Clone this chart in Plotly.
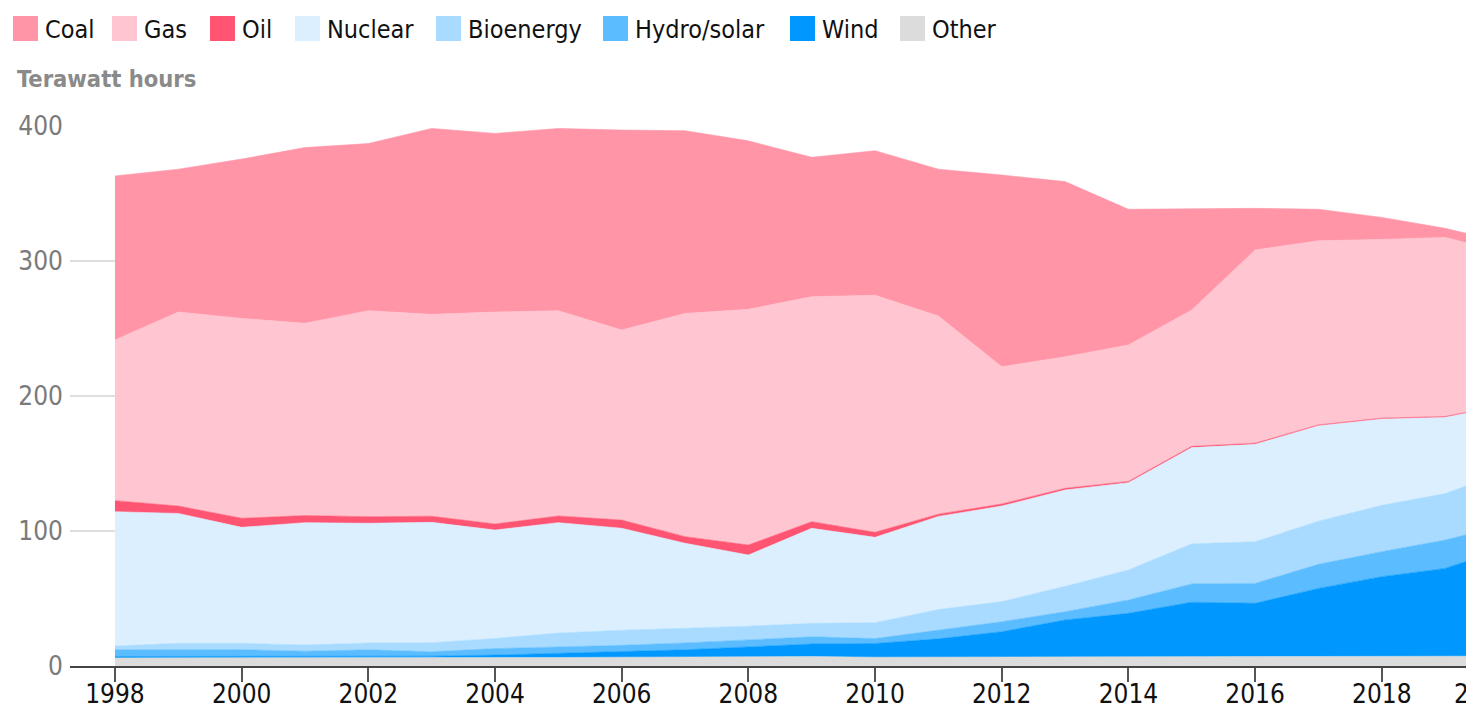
import plotly.graph_objects as go

years = list(range(1998, 2021))

other = [6.0, 6.0, 6.0, 5.8, 5.9, 6.0, 6.2, 6.3, 6.5, 6.7, 6.9, 7.0, 6.5, 6.6, 6.7, 6.8, 6.9, 7.1, 7.5, 7.5, 7.6, 7.5, 7.3]
wind = [1.0, 1.0, 1.0, 1.0, 1.3, 1.3, 1.9, 2.9, 4.2, 5.3, 7.1, 9.3, 10.2, 13.5, 18.7, 27.3, 32.1, 40.2, 38.9, 50.0, 58.6, 64.8, 80.7]
hydro_solar = [5.0, 5.3, 5.1, 4.1, 4.8, 3.2, 4.8, 4.9, 4.6, 5.1, 5.2, 5.3, 3.6, 6.6, 7.4, 6.1, 9.9, 13.5, 14.8, 17.8, 18.5, 21.0, 17.0]
bioenergy = [2.8, 4.5, 4.7, 4.7, 5.0, 6.8, 7.5, 10.3, 11.2, 10.9, 10.3, 10.0, 11.8, 15.1, 14.9, 18.8, 22.2, 29.7, 30.8, 32.0, 34.3, 34.4, 40.0]
nuclear = [99.5, 96.2, 85.9, 90.6, 88.7, 89.1, 80.3, 81.8, 75.5, 62.9, 52.7, 70.4, 63.2, 69.0, 70.8, 71.4, 64.7, 71.3, 72.2, 70.7, 64.0, 56.6, 48.5]
oil = [8.2, 5.5, 6.7, 5.2, 4.9, 4.5, 4.5, 4.9, 6.1, 4.9, 7.4, 4.9, 3.7, 1.7, 1.5, 1.2, 0.9, 0.9, 0.8, 0.6, 0.6, 0.5, 0.5]
gas = [119.0, 143.7, 148.1, 142.4, 152.6, 149.6, 157.0, 152.1, 140.8, 165.4, 174.6, 166.7, 175.6, 146.8, 101.7, 97.4, 101.1, 101.0, 143.1, 136.4, 132.4, 132.7, 111.5]
coal = [121.5, 105.8, 118.0, 130.2, 123.8, 137.7, 132.3, 135.0, 148.1, 135.3, 124.8, 103.2, 107.1, 108.7, 142.0, 129.8, 100.5, 75.1, 30.9, 23.3, 16.3, 6.7, 7.5]

# stacking order bottom -> top
series_names = ["Other", "Wind", "Hydro/solar", "Bioenergy", "Nuclear", "Oil", "Gas", "Coal"]
series_values = [other, wind, hydro_solar, bioenergy, nuclear, oil, gas, coal]
series_colors = ["#dcdcdc", "#0098ff", "#5bbcff", "#a8dbff", "#dbefff", "#ff5472", "#ffc5d0", "#ff95a7"]

# legend order (top -> bottom of stack)
legend_names = ["Coal", "Gas", "Oil", "Nuclear", "Bioenergy", "Hydro/solar", "Wind", "Other"]

x_ticks = list(range(1998, 2019, 2))
y_ticks = [0, 100, 200, 300, 400]
y_label = "Terawatt hours"
last_label = "2020"

FONT = "DejaVu Sans Condensed, DejaVu Sans, sans-serif"

W, H = 1466, 711
ML, MR, MT, MB = 70, 0, 126, 45
PW = W - ML - MR
PH = H - MT - MB


def px_x(p):
    return (p - ML) / PW


def px_y(p):
    return (H - MB - p) / PH


fig = go.Figure()
for name, vals, col in zip(series_names, series_values, series_colors):
    fig.add_trace(go.Scatter(
        x=years, y=vals, name=name, stackgroup="one", mode="lines",
        line=dict(width=0.6, color=col), fillcolor=col, showlegend=False,
        hoverinfo="x+y+name",
    ))

# custom legend (square swatches + text)
legend_left_px = [13, 112, 210, 295, 436, 603, 790, 900]
color_of = dict(zip(series_names, series_colors))
shapes = []
annotations = []
for nm, lx in zip(legend_names, legend_left_px):
    shapes.append(dict(type="rect", xref="paper", yref="paper",
                       x0=px_x(lx), x1=px_x(lx + 25), y0=px_y(41), y1=px_y(16),
                       fillcolor=color_of[nm], line=dict(width=0)))
    annotations.append(dict(text=nm, xref="paper", yref="paper", x=px_x(lx + 30), y=px_y(29),
                            xanchor="left", yanchor="middle", showarrow=False,
                            font=dict(family=FONT, size=25, color="#111111")))

annotations.append(dict(text="<b>" + y_label + "</b>", xref="paper", yref="paper",
                        x=px_x(15), y=px_y(79), xanchor="left", yanchor="middle", showarrow=False,
                        font=dict(family=FONT, size=23.5, color="#8a8a8a")))

annotations.append(dict(text=last_label, xref="paper", yref="paper",
                        x=px_x(1516), y=px_y(694), xanchor="right", yanchor="middle", showarrow=False,
                        font=dict(family=FONT, size=26, color="#111111")))

fig.update_layout(
    width=W, height=H,
    margin=dict(l=ML, r=MR, t=MT, b=MB, pad=0),
    paper_bgcolor="white", plot_bgcolor="white",
    showlegend=False,
    shapes=shapes, annotations=annotations,
    font=dict(family=FONT),
    xaxis=dict(range=[1997.29, 2019.33], tickmode="array", tickvals=x_ticks,
               ticktext=[str(t) for t in x_ticks], automargin=False,
               ticks="outside", ticklen=14, tickwidth=2, tickcolor="#555555",
               ticklabelstandoff=-10,
               showline=True, linecolor="#444444", linewidth=2,
               showgrid=False, zeroline=False,
               tickfont=dict(family=FONT, size=26, color="#111111")),
    yaxis=dict(range=[0, 400], tickmode="array", tickvals=y_ticks, automargin=False,
               showgrid=True, gridcolor="#dedede", gridwidth=1.5,
               zeroline=False, showline=False, ticks="", ticklabelstandoff=6,
               tickfont=dict(family=FONT, size=26, color="#7a7a7a")),
)

fig.write_html("out.html", config={"displayModeBar": False},
               post_script="document.body.style.margin='0';document.body.style.overflow='hidden';")
